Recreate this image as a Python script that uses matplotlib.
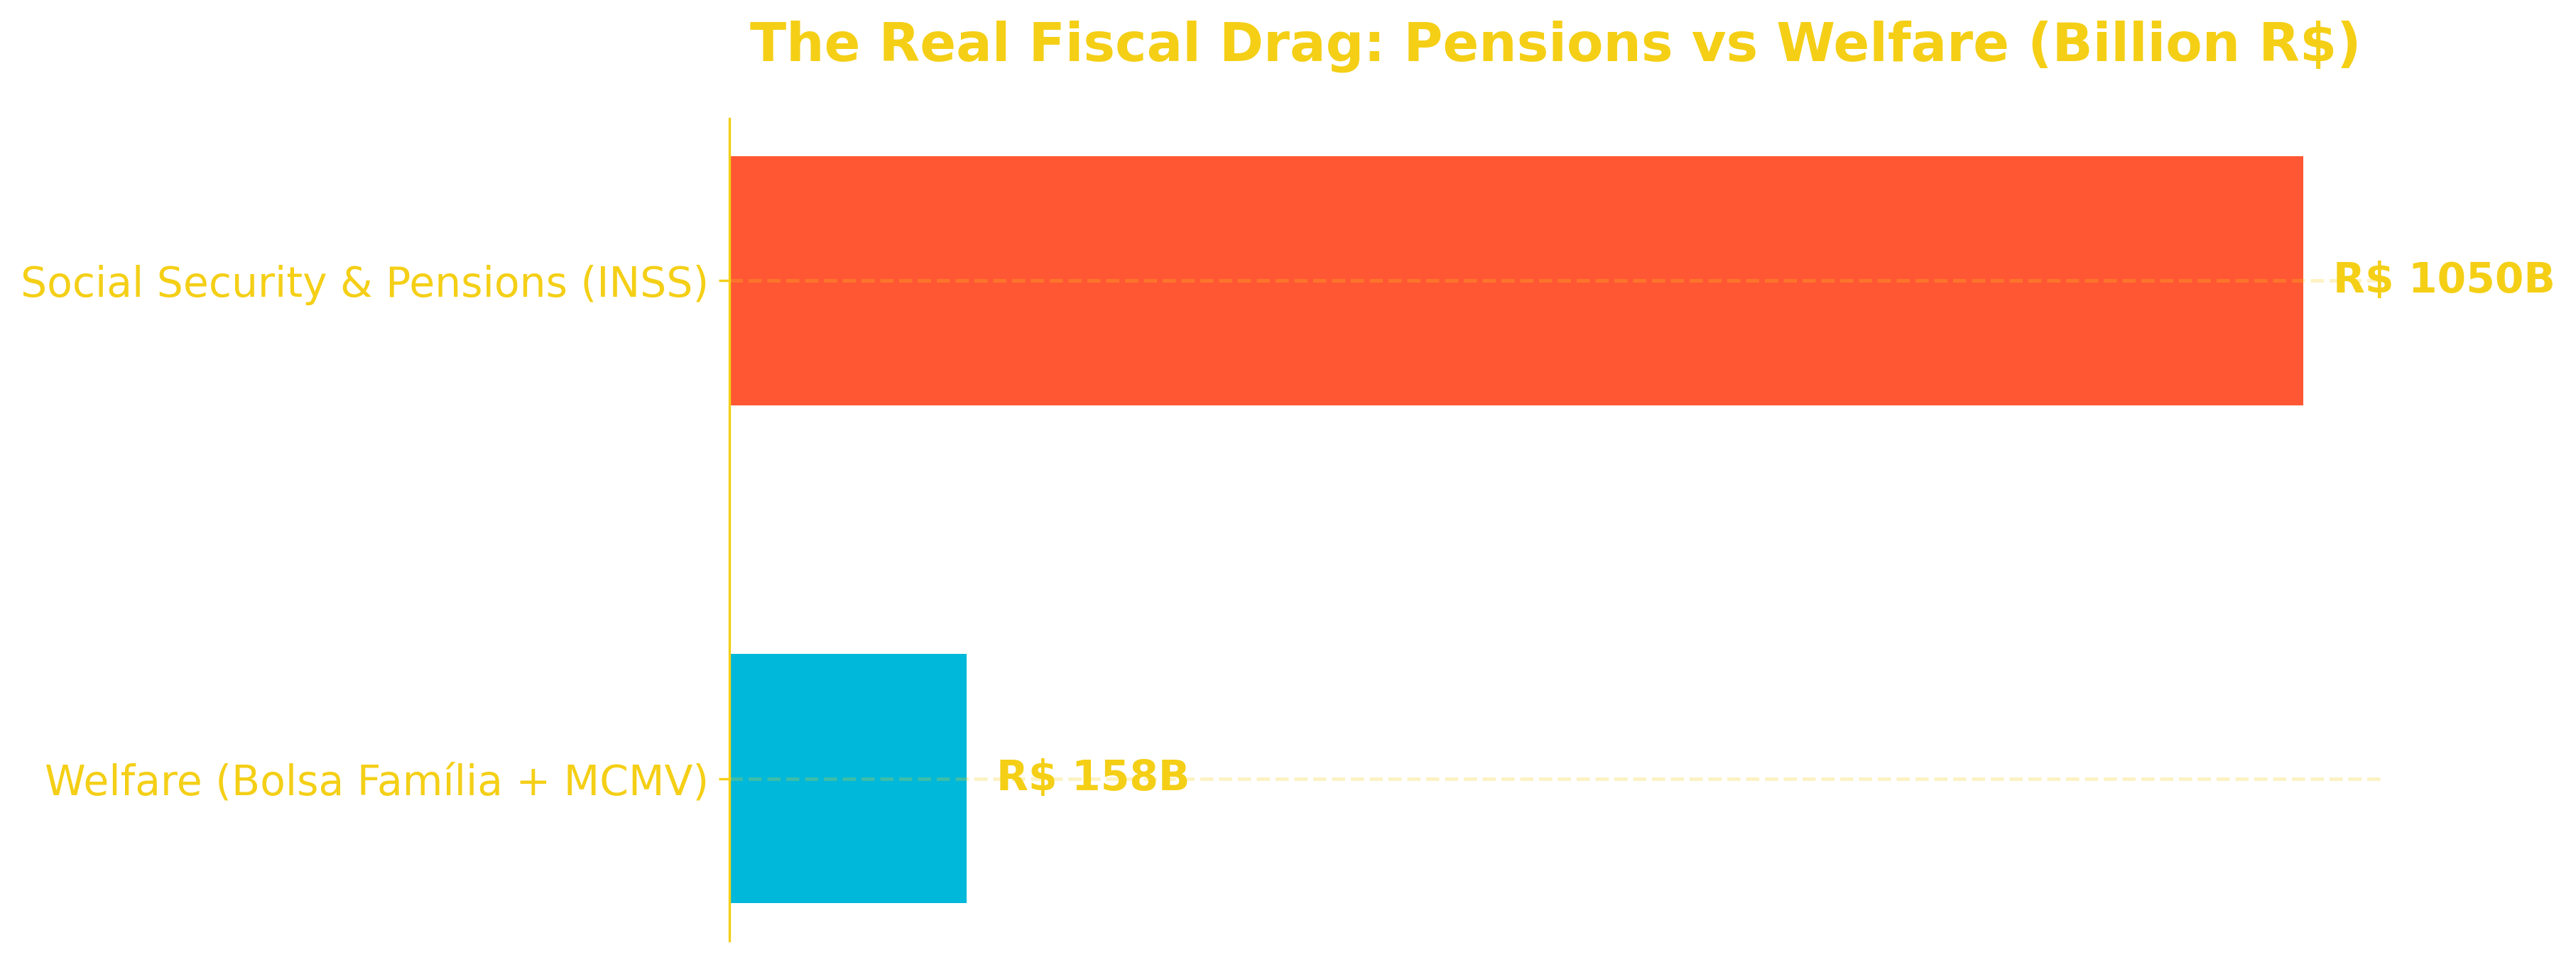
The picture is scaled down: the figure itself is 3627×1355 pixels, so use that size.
import matplotlib
matplotlib.use("Agg")
import matplotlib.pyplot as plt

categories = ["Social Security & Pensions (INSS)", "Welfare (Bolsa Família + MCMV)"]
values = [1050, 158]
bar_colors = ["#FF5733", "#00B8D9"]
title = "The Real Fiscal Drag: Pensions vs Welfare (Billion R$)"

gold = "#F4CF16"

fig = plt.figure(figsize=(3627 / 300, 1355 / 300), dpi=300)
ax = fig.add_axes([0.2832, 0.0221, 0.9247 - 0.2832, 0.8768 - 0.0221])

ax.barh(categories, values, color=bar_colors, height=0.5)
ax.invert_yaxis()

ax.grid(axis="y", linestyle="--", color=gold, alpha=0.25, linewidth=1.2)
ax.grid(axis="x", visible=False)
ax.set_axisbelow(False)

for i, v in enumerate(values):
    ax.text(v + 20, i, f"R$ {v}B", va="center", ha="left",
            fontsize=14, fontweight="bold", color=gold)

ax.set_title(title, fontsize=18, fontweight="bold", color=gold, pad=19.5)

for s in ["top", "right", "bottom"]:
    ax.spines[s].set_visible(False)
ax.spines["left"].set_color(gold)
ax.tick_params(axis="y", colors=gold, labelsize=14)
ax.tick_params(axis="x", bottom=False, labelbottom=False)

fig.savefig("out.png", dpi=300)
